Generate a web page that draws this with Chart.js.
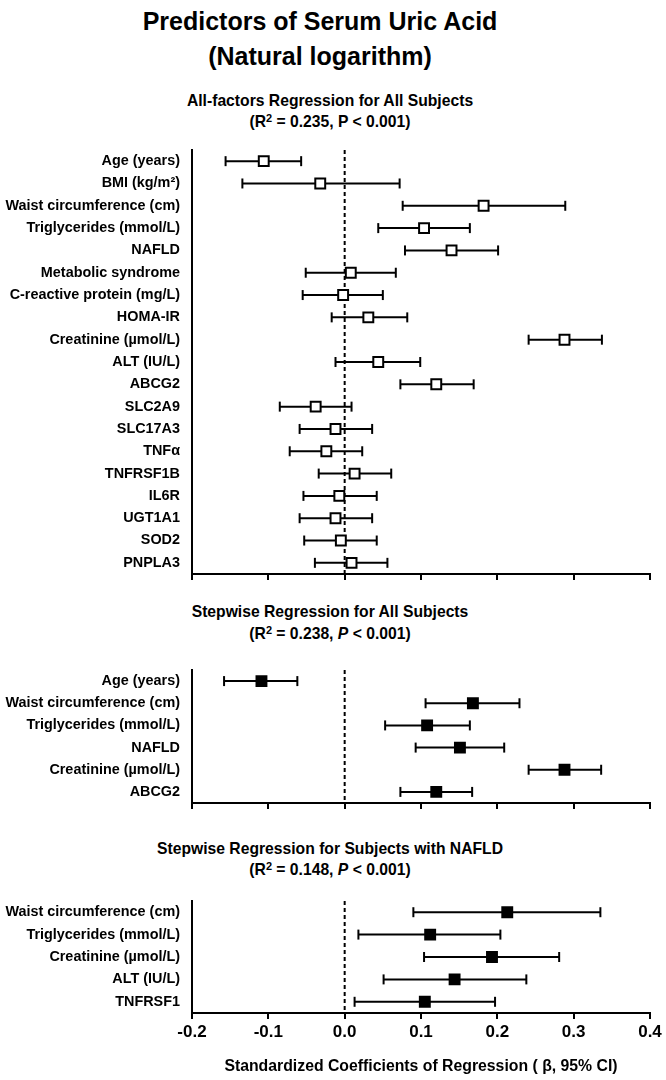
<!DOCTYPE html>
<html>
<head>
<meta charset="utf-8">
<script src="https://cdn.jsdelivr.net/npm/chart.js@4.4.0/dist/chart.umd.min.js"></script>
<style>
body { margin:0; width:666px; height:1080px; background:#fff; position:relative; overflow:hidden;
       font-family:"Liberation Sans", Arial, sans-serif; }
.t { position:absolute; left:0; width:660px; text-align:center; font-weight:bold; color:#000; white-space:nowrap; }
.t sup { font-size:0.7em; vertical-align:0.5em; line-height:0; }
canvas { position:absolute; left:0; }
</style>
</head>
<body>
<div class="t" style="top:4px; width:640px; font-size:25px; line-height:35px">Predictors of Serum Uric Acid<br>(Natural logarithm)</div>
<div class="t" style="top:90px; font-size:15.7px; line-height:21px">All-factors Regression for All Subjects<br>(R<sup>2</sup> = 0.235, P &lt; 0.001)</div>
<div class="t" style="top:601px; font-size:15.7px; line-height:22px">Stepwise Regression for All Subjects<br>(R<sup>2</sup> = 0.238, <i>P</i> &lt; 0.001)</div>
<div class="t" style="top:838px; font-size:15.7px; line-height:21px">Stepwise Regression for Subjects with NAFLD<br>(R<sup>2</sup> = 0.148, <i>P</i> &lt; 0.001)</div>

<canvas id="allChart" width="666" height="444" style="top:140px"></canvas>
<canvas id="stepChart" width="666" height="153" style="top:660px"></canvas>
<canvas id="nafldChart" width="666" height="189" style="top:891px"></canvas>

<script>
// x axis ticks
const xTicks = [-0.2, -0.1, 0.0, 0.1, 0.2, 0.3, 0.4];

// All-factors regression, all subjects
const labelsAll = ["Age (years)", "BMI (kg/m²)", "Waist circumference (cm)", "Triglycerides (mmol/L)",
  "NAFLD", "Metabolic syndrome", "C-reactive protein (mg/L)", "HOMA-IR", "Creatinine (µmol/L)",
  "ALT (IU/L)", "ABCG2", "SLC2A9", "SLC17A3", "TNFα", "TNFRSF1B", "IL6R", "UGT1A1", "SOD2", "PNPLA3"];
const betaAll = [-0.106, -0.032, 0.182, 0.104, 0.140, 0.008, -0.002, 0.031, 0.288,
  0.044, 0.120, -0.038, -0.012, -0.024, 0.013, -0.007, -0.012, -0.005, 0.009];
const lowAll = [-0.156, -0.134, 0.076, 0.044, 0.079, -0.051, -0.055, -0.017, 0.241,
  -0.012, 0.073, -0.085, -0.059, -0.072, -0.034, -0.054, -0.059, -0.053, -0.039];
const highAll = [-0.057, 0.072, 0.289, 0.164, 0.201, 0.067, 0.050, 0.082, 0.337,
  0.099, 0.169, 0.009, 0.036, 0.023, 0.061, 0.042, 0.036, 0.042, 0.056];

// Stepwise regression, all subjects
const labelsStep = ["Age (years)", "Waist circumference (cm)", "Triglycerides (mmol/L)",
  "NAFLD", "Creatinine (µmol/L)", "ABCG2"];
const betaStep = [-0.109, 0.168, 0.108, 0.151, 0.288, 0.120];
const lowStep = [-0.158, 0.106, 0.053, 0.093, 0.241, 0.073];
const highStep = [-0.062, 0.229, 0.164, 0.209, 0.336, 0.167];

// Stepwise regression, subjects with NAFLD
const labelsNafld = ["Waist circumference (cm)", "Triglycerides (mmol/L)", "Creatinine (µmol/L)",
  "ALT (IU/L)", "TNFRSF1"];
const betaNafld = [0.213, 0.112, 0.193, 0.144, 0.105];
const lowNafld = [0.090, 0.018, 0.104, 0.051, 0.013];
const highNafld = [0.335, 0.204, 0.281, 0.238, 0.197];

const FONT = "'Liberation Sans', Arial, sans-serif";

// dashed line at beta = 0
const zeroLine = {
  id: 'zeroLine',
  beforeDatasetsDraw(chart) {
    const { ctx, chartArea, scales } = chart;
    const x = scales.x.getPixelForValue(0);
    ctx.save();
    ctx.strokeStyle = '#000';
    ctx.lineWidth = 2;
    ctx.setLineDash([4, 3]);
    ctx.beginPath();
    ctx.moveTo(x, chartArea.top);
    ctx.lineTo(x, chartArea.bottom);
    ctx.stroke();
    ctx.restore();
  }
};

function makePanel(id, labels, beta, low, high, filled, showX) {
  const datasets = [];

  // the squares go on top
  datasets.push({
    data: labels.map((l, i) => ({ x: beta[i], y: l })),
    pointStyle: 'rect',
    pointRadius: 7,
    pointHoverRadius: 7,
    pointBackgroundColor: filled ? '#000' : '#fff',
    pointBorderColor: '#000',
    pointBorderWidth: 2,
    showLine: false,
    order: 0
  });

  // one little line per row for the confidence interval, with caps
  labels.forEach((l, i) => {
    datasets.push({
      data: [{ x: low[i], y: l }, { x: high[i], y: l }],
      showLine: true,
      borderColor: '#000',
      borderWidth: 2,
      pointStyle: 'line',
      pointRotation: 90,
      pointRadius: 5,
      pointHoverRadius: 5,
      pointBorderColor: '#000',
      pointBorderWidth: 2,
      order: 1
    });
  });

  new Chart(document.getElementById(id), {
    type: 'scatter',
    data: { datasets },
    options: {
      responsive: false,
      animation: false,
      events: [],
      layout: { padding: { top: 10, right: 16, left: 0, bottom: 0 } },
      plugins: { legend: { display: false }, tooltip: { enabled: false } },
      scales: {
        x: {
          type: 'linear',
          min: -0.2,
          max: 0.4,
          afterBuildTicks: s => { s.ticks = xTicks.map(v => ({ value: v })); },
          afterFit: s => { s.height = showX ? 67 : 10; },
          grid: { display: true, drawOnChartArea: false, drawTicks: true, tickLength: 6,
                  color: '#000', lineWidth: 2 },
          border: { display: true, color: '#000', width: 2 },
          ticks: {
            display: showX,
            color: '#000',
            padding: 3,
            maxRotation: 0,
            font: { family: FONT, size: 17, weight: 'bold' },
            callback: v => v.toFixed(1)
          },
          title: {
            display: showX,
            text: 'Standardized Coefficients of Regression ( β, 95% CI)',
            color: '#000',
            font: { family: FONT, size: 15.8, weight: 'bold' },
            padding: { top: 4, bottom: 4 }
          }
        },
        y: {
          type: 'category',
          labels: labels,
          offset: true,
          // fixed width so the plot starts at the same x in every panel
          afterFit: s => { s.width = 192; s.paddingTop = 0; s.paddingBottom = 0; },
          grid: { display: true, drawOnChartArea: false, drawTicks: false },
          border: { display: true, color: '#000', width: 2 },
          ticks: {
            color: '#000',
            padding: 12,
            font: { family: FONT, size: 14.4, weight: 'bold' }
          }
        }
      }
    },
    plugins: [zeroLine]
  });
}

makePanel('allChart', labelsAll, betaAll, lowAll, highAll, false, false);
makePanel('stepChart', labelsStep, betaStep, lowStep, highStep, true, false);
makePanel('nafldChart', labelsNafld, betaNafld, lowNafld, highNafld, true, true);
</script>
</body>
</html>
